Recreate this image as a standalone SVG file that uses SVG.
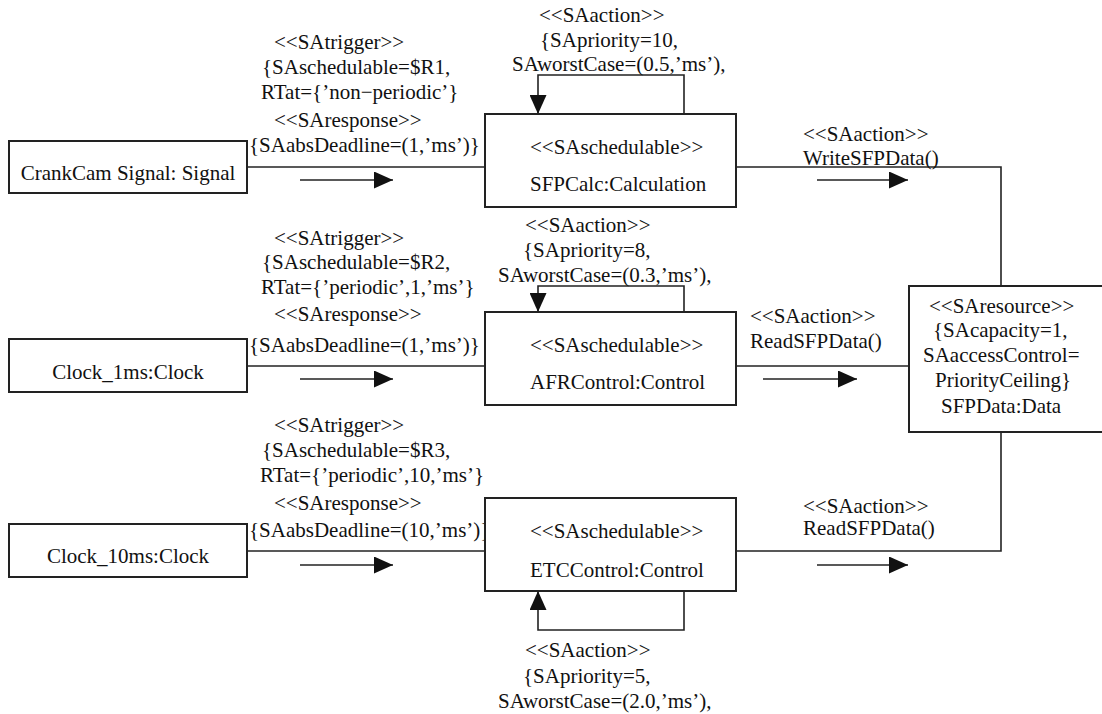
<svg xmlns="http://www.w3.org/2000/svg" width="1102" height="714" viewBox="0 0 1102 714">
<style>
text{font-family:'Liberation Serif','DejaVu Serif',serif;font-size:21px;fill:#111}
.box{fill:#fff;stroke:#222;stroke-width:2}
.ln{fill:none;stroke:#222;stroke-width:1.6}
.m{text-anchor:middle}
</style>
<defs>
<marker id="ah" markerUnits="userSpaceOnUse" markerWidth="19" markerHeight="17" refX="19" refY="8.5" orient="auto">
<path d="M0,0 L19,8.5 L0,17 z" fill="#111"/>
</marker>
</defs>
<rect width="1102" height="714" fill="#fff"/>
<g id="connectors" font-family="Liberation Serif, DejaVu Serif, serif">
<path class="ln" d="M247,167 H485"/>
<path class="ln" d="M736,167 H1001 V286"/>
<path class="ln" d="M247,366 H485"/>
<path class="ln" d="M736,366 H909"/>
<path class="ln" d="M247,551 H485"/>
<path class="ln" d="M736,551 H1001 V432"/>
<path class="ln" d="M684,114 V75 H538 V114" marker-end="url(#ah)"/>
<path class="ln" d="M684,312 V286 H538 V312" marker-end="url(#ah)"/>
<path class="ln" d="M684,591 V630 H538 V591" marker-end="url(#ah)"/>
<path class="ln" d="M300,180 H393" marker-end="url(#ah)"/>
<path class="ln" d="M300,379 H393" marker-end="url(#ah)"/>
<path class="ln" d="M300,565 H393" marker-end="url(#ah)"/>
<path class="ln" d="M817,180 H908" marker-end="url(#ah)"/>
<path class="ln" d="M763,379 H857" marker-end="url(#ah)"/>
<path class="ln" d="M817,565 H908" marker-end="url(#ah)"/>
<text x="274" y="49">&lt;&lt;SAtrigger&gt;&gt;</text>
<text x="262" y="74">{SAschedulable=$R1,</text>
<text x="261" y="99">RTat={’non−periodic’}</text>
<text x="274" y="127">&lt;&lt;SAresponse&gt;&gt;</text>
<text x="249" y="152">{SAabsDeadline=(1,’ms’)}</text>
<text x="274" y="245">&lt;&lt;SAtrigger&gt;&gt;</text>
<text x="262" y="269">{SAschedulable=$R2,</text>
<text x="261" y="294">RTat={’periodic’,1,’ms’}</text>
<text x="274" y="321">&lt;&lt;SAresponse&gt;&gt;</text>
<text x="249" y="352">{SAabsDeadline=(1,’ms’)}</text>
<text x="274" y="432">&lt;&lt;SAtrigger&gt;&gt;</text>
<text x="262" y="457">{SAschedulable=$R3,</text>
<text x="260" y="482">RTat={’periodic’,10,’ms’}</text>
<text x="274" y="510">&lt;&lt;SAresponse&gt;&gt;</text>
<text x="249" y="537">{SAabsDeadline=(10,’ms’)}</text>
<text x="539" y="22">&lt;&lt;SAaction&gt;&gt;</text>
<text x="540" y="47">{SApriority=10,</text>
<text x="512" y="71">SAworstCase=(0.5,’ms’),</text>
<text x="525" y="232">&lt;&lt;SAaction&gt;&gt;</text>
<text x="523" y="257">{SApriority=8,</text>
<text x="498" y="282">SAworstCase=(0.3,’ms’),</text>
<text x="525" y="657">&lt;&lt;SAaction&gt;&gt;</text>
<text x="523" y="683">{SApriority=5,</text>
<text x="498" y="708">SAworstCase=(2.0,’ms’),</text>
<text x="803" y="141">&lt;&lt;SAaction&gt;&gt;</text>
<text x="803" y="165">WriteSFPData()</text>
<text x="750" y="323">&lt;&lt;SAaction&gt;&gt;</text>
<text x="750" y="348">ReadSFPData()</text>
<text x="803" y="513">&lt;&lt;SAaction&gt;&gt;</text>
<text x="803" y="535">ReadSFPData()</text>
</g>
<g id="crankcam">
<rect class="box" x="9" y="141" width="238" height="52"/>
<text class="m" x="128" y="180">CrankCam Signal: Signal</text>
</g>
<g id="clock1ms">
<rect class="box" x="9" y="339" width="238" height="53"/>
<text class="m" x="128" y="379">Clock_1ms:Clock</text>
</g>
<g id="clock10ms">
<rect class="box" x="9" y="524" width="238" height="53"/>
<text class="m" x="128" y="563">Clock_10ms:Clock</text>
</g>
<g id="sfpcalc">
<rect class="box" x="485" y="114" width="251" height="93"/>
<text x="530" y="154">&lt;&lt;SAschedulable&gt;&gt;</text>
<text x="530" y="191">SFPCalc:Calculation</text>
</g>
<g id="afrcontrol">
<rect class="box" x="485" y="312" width="251" height="93"/>
<text x="530" y="352">&lt;&lt;SAschedulable&gt;&gt;</text>
<text x="530" y="389">AFRControl:Control</text>
</g>
<g id="etccontrol">
<rect class="box" x="485" y="498" width="251" height="93"/>
<text x="530" y="538">&lt;&lt;SAschedulable&gt;&gt;</text>
<text x="530" y="577">ETCControl:Control</text>
</g>
<g id="sfpdata">
<rect class="box" x="909" y="286" width="200" height="146"/>
<text x="929" y="313">&lt;&lt;SAresource&gt;&gt;</text>
<text x="933" y="337">{SAcapacity=1,</text>
<text x="923" y="362">SAaccessControl=</text>
<text x="935" y="387">PriorityCeiling}</text>
<text x="941" y="413">SFPData:Data</text>
</g>
</svg>
